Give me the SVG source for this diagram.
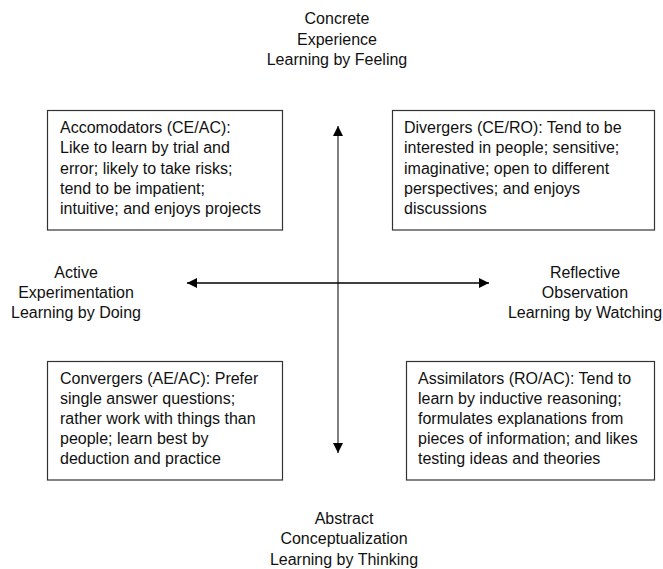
<svg xmlns="http://www.w3.org/2000/svg" width="663" height="569" viewBox="0 0 663 569">
<style>
text{font-family:"Liberation Sans",Arial,sans-serif;font-size:16px;fill:#111}
.c{text-anchor:middle}
.box{fill:#fff;stroke:#333;stroke-width:1.2}
</style>
<defs>
<marker id="ah" viewBox="0 0 10 10" refX="10" refY="5" markerWidth="10" markerHeight="10" markerUnits="userSpaceOnUse" orient="auto">
<path d="M0,0 L10,5 L0,10 z" fill="#000"/>
</marker>
</defs>
<rect width="663" height="569" fill="#fff"/>
<g id="connectors">
<line x1="338" y1="283" x2="338" y2="126" stroke="#555" stroke-width="1.5" marker-end="url(#ah)"/>
<line x1="338" y1="283" x2="338" y2="453" stroke="#555" stroke-width="1.5" marker-end="url(#ah)"/>
<line x1="338" y1="283" x2="187" y2="283" stroke="#000" stroke-width="1.5" marker-end="url(#ah)"/>
<line x1="338" y1="283" x2="489" y2="283" stroke="#000" stroke-width="1.5" marker-end="url(#ah)"/>
</g>
<g id="concrete">
<text class="c" x="337" y="24">Concrete</text>
<text class="c" x="337" y="44.5">Experience</text>
<text class="c" x="337" y="65">Learning by Feeling</text>
</g>
<g id="active">
<text class="c" x="76" y="278">Active</text>
<text class="c" x="76" y="298">Experimentation</text>
<text class="c" x="76" y="318">Learning by Doing</text>
</g>
<g id="reflective">
<text class="c" x="585" y="278">Reflective</text>
<text class="c" x="585" y="298">Observation</text>
<text class="c" x="585" y="318">Learning by Watching</text>
</g>
<g id="abstract">
<text class="c" x="344" y="524">Abstract</text>
<text class="c" x="344" y="544">Conceptualization</text>
<text class="c" x="344" y="564.5">Learning by Thinking</text>
</g>
<g id="accomodators">
<rect class="box" x="47.5" y="110.5" width="235" height="119.5"/>
<text x="60" y="133">Accomodators (CE/AC):</text>
<text x="60" y="153.3">Like to learn by trial and</text>
<text x="60" y="173.6">error; likely to take risks;</text>
<text x="60" y="193.9">tend to be impatient;</text>
<text x="60" y="214.2">intuitive; and enjoys projects</text>
</g>
<g id="divergers">
<rect class="box" x="392.5" y="110.5" width="262" height="119.5"/>
<text x="404" y="133">Divergers (CE/RO): Tend to be</text>
<text x="404" y="153.3">interested in people; sensitive;</text>
<text x="404" y="173.6">imaginative; open to different</text>
<text x="404" y="193.9">perspectives; and enjoys</text>
<text x="404" y="214.2">discussions</text>
</g>
<g id="convergers">
<rect class="box" x="47.5" y="361.5" width="235" height="118.5"/>
<text x="60" y="383.5">Convergers (AE/AC): Prefer</text>
<text x="60" y="403.7">single answer questions;</text>
<text x="60" y="423.9">rather work with things than</text>
<text x="60" y="444.1">people; learn best by</text>
<text x="60" y="464.3">deduction and practice</text>
</g>
<g id="assimilators">
<rect class="box" x="406.5" y="361.5" width="248" height="118.5"/>
<text x="418" y="383.5">Assimilators (RO/AC): Tend to</text>
<text x="418" y="403.7">learn by inductive reasoning;</text>
<text x="418" y="423.9">formulates explanations from</text>
<text x="418" y="444.1">pieces of information; and likes</text>
<text x="418" y="464.3">testing ideas and theories</text>
</g>
</svg>
